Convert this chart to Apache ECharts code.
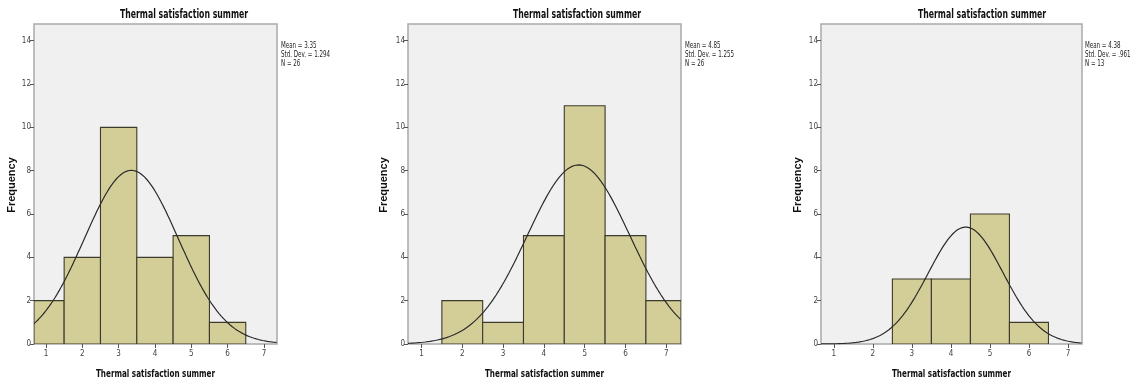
<!DOCTYPE html>
<html><head><meta charset="utf-8">
<script src="https://cdn.jsdelivr.net/npm/echarts@6/dist/echarts.min.js"></script>
<style>html,body{margin:0;padding:0;background:#fff}#c{width:1136px;height:383px}</style>
</head><body><div id="c"></div>
<script>
// ---- data ----
const binCenters = [1, 2, 3, 4, 5, 6, 7];
const freqA = [2, 4, 10, 4, 5, 1, 0];
const freqB = [0, 2, 1, 5, 11, 5, 2];
const freqC = [0, 0, 3, 3, 6, 1, 0];
const statsA = { mean: 3.35, sd: 1.294, n: 26, label: ['Mean = 3.35', 'Std. Dev. = 1.294', 'N = 26'] };
const statsB = { mean: 4.85, sd: 1.255, n: 26, label: ['Mean = 4.85', 'Std. Dev. = 1.255', 'N = 26'] };
const statsC = { mean: 4.38, sd: 0.961, n: 13, label: ['Mean = 4.38', 'Std. Dev. = .961', 'N = 13'] };
const xTicks = [1, 2, 3, 4, 5, 6, 7];
const yTicks = [0, 2, 4, 6, 8, 10, 12, 14];
const chartTitle = 'Thermal satisfaction summer';
const xTitle = 'Thermal satisfaction summer';
const yTitle = 'Frequency';

// ---- layout ----
const X_MIN = 0.67, X_MAX = 7.36, Y_MAX = 14.77;
const panels = [
  { freq: freqA, stats: statsA, grid: { left: 34, top: 24, width: 243, height: 320 }, titleX: 184, statX: 281, yTitleX: 12 },
  { freq: freqB, stats: statsB, grid: { left: 408, top: 24, width: 273, height: 320 }, titleX: 577, statX: 685, yTitleX: 384 },
  { freq: freqC, stats: statsC, grid: { left: 821, top: 24, width: 261, height: 320 }, titleX: 982, statX: 1085, yTitleX: 798 }
];

function normalCurve(s) {
  const pts = [];
  for (let x = X_MIN; x <= X_MAX + 1e-9; x += 0.02) {
    const z = (x - s.mean) / s.sd;
    pts.push([x, s.n * Math.exp(-0.5 * z * z) / (s.sd * Math.sqrt(2 * Math.PI))]);
  }
  return pts;
}

const narrow = '"Liberation Sans Narrow", "DejaVu Sans Condensed", "Arial Narrow", sans-serif';
const grids = [], xAxes = [], yAxes = [], series = [], graphics = [];
panels.forEach((p, i) => {
  grids.push(Object.assign({ show: true, backgroundColor: '#f0f0f0', borderColor: '#a9a9a9', borderWidth: 1.5 }, p.grid));
  xAxes.push({
    type: 'value', gridIndex: i, min: X_MIN, max: X_MAX,
    splitLine: { show: false },
    axisLine: { show: false },
    axisTick: { show: true, length: 4, lineStyle: { color: '#555' }, customValues: xTicks },
    axisLabel: { fontSize: 8, color: '#444', fontFamily: narrow, margin: 6, customValues: xTicks }
  });
  yAxes.push({
    type: 'value', gridIndex: i, min: 0, max: Y_MAX,
    splitLine: { show: false },
    axisLine: { show: false },
    axisTick: { show: true, length: 4, lineStyle: { color: '#555' }, customValues: yTicks },
    axisLabel: { fontSize: 8, color: '#444', fontFamily: narrow, margin: 3, customValues: yTicks }
  });
  series.push({
    type: 'custom', xAxisIndex: i, yAxisIndex: i, clip: true, z: 2,
    data: binCenters.map((c, k) => [c, p.freq[k]]),
    renderItem: function (params, api) {
      const x = api.value(0), y = api.value(1);
      if (!y) return null;
      const a = api.coord([x - 0.5, y]);
      const b = api.coord([x + 0.5, 0]);
      const cs = params.coordSys;
      const x0 = Math.max(a[0], cs.x), x1 = Math.min(b[0], cs.x + cs.width);
      return { type: 'rect', shape: { x: x0, y: a[1], width: x1 - x0, height: b[1] - a[1] },
        style: { fill: '#d3ce97', stroke: '#3d3b2c', lineWidth: 1.1 } };
    }
  });
  series.push({
    type: 'line', xAxisIndex: i, yAxisIndex: i, data: normalCurve(p.stats), showSymbol: false, symbol: 'none',
    lineStyle: { color: '#2a2a2a', width: 1.2 }, z: 3, silent: true, clip: true
  });
  graphics.push({ type: 'text', x: p.titleX, y: 15, scaleX: 0.72, style: { text: chartTitle, align: 'center', verticalAlign: 'middle', font: 'bold 12px ' + narrow, fill: '#111' } });
  graphics.push({ type: 'text', x: p.grid.left + p.grid.width / 2, y: 374, scaleX: 0.73, style: { text: xTitle, align: 'center', verticalAlign: 'middle', font: 'bold 11px ' + narrow, fill: '#111' } });
  graphics.push({ type: 'text', x: p.yTitleX, y: 185, rotation: Math.PI / 2, style: { text: yTitle, align: 'center', verticalAlign: 'middle', font: 'bold 11px "Liberation Sans", Arial, sans-serif', fill: '#111' } });
  graphics.push({ type: 'text', x: p.statX, y: 41, scaleX: 0.77, style: { text: p.stats.label.join('\n'), align: 'left', verticalAlign: 'top', font: '8px ' + narrow, lineHeight: 9.3, fill: '#222' } });
});

const chart = echarts.init(document.getElementById('c'), null, { renderer: 'canvas' });
chart.setOption({ animation: false, grid: grids, xAxis: xAxes, yAxis: yAxes, series: series, graphic: graphics });
</script></body></html>
